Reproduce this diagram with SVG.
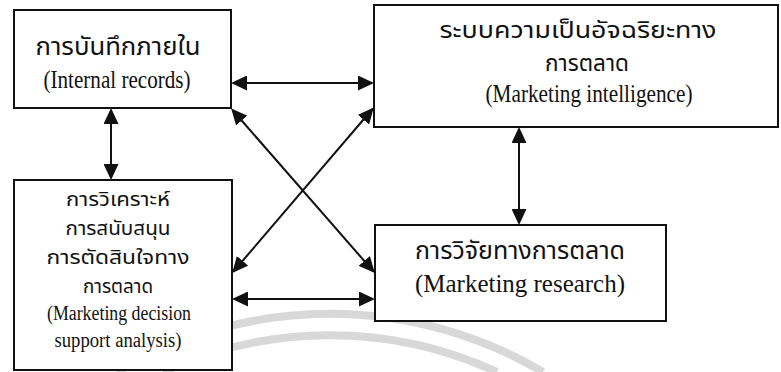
<svg xmlns="http://www.w3.org/2000/svg" width="781" height="372" viewBox="0 0 781 372">
  <style>
    .box { fill: #ffffff; stroke: #111111; stroke-width: 2; }
    .th { font-family: "Noto Sans Thai", "Noto Serif Thai", "Loma", "Garuda", "Norasi", "Tlwg Typo", "DejaVu Sans", sans-serif; fill: #111111; text-anchor: middle; }
    .en { font-family: "Liberation Serif", "Times New Roman", serif; fill: #111111; text-anchor: middle; }
    .link { fill: none; stroke: #111111; stroke-width: 2; }
    .mark { fill: none; stroke: #d8d8d8; stroke-width: 8; }
  </style>
  <defs>
    <marker id="tip" viewBox="0 0 16 15" refX="14" refY="7.5" markerWidth="16" markerHeight="15" markerUnits="userSpaceOnUse" orient="auto-start-reverse">
      <path d="M0,0 L16,7.5 L0,15 z" fill="#111111"/>
    </marker>
  </defs>

  <!-- faint background arcs -->
  <g id="backdrop">
    <path class="mark" d="M117,372 A418.6,418.6 0 0 1 543,372"/>
    <path class="mark" d="M163,372 A397,397 0 0 1 497,372"/>
  </g>

  <g id="internal-records">
    <rect class="box" x="14" y="10" width="217" height="98"/>
    <text class="th" x="118" y="55" font-size="24" textLength="165" lengthAdjust="spacingAndGlyphs">การบันทึกภายใน</text>
    <text class="en" x="117" y="88" font-size="25" textLength="147" lengthAdjust="spacingAndGlyphs">(Internal records)</text>
  </g>

  <g id="marketing-intelligence">
    <rect class="box" x="374" y="5" width="404" height="122"/>
    <text class="th" x="578" y="38" font-size="23" textLength="277" lengthAdjust="spacingAndGlyphs">ระบบความเป็นอัจฉริยะทาง</text>
    <text class="th" x="587" y="71" font-size="23" textLength="84" lengthAdjust="spacingAndGlyphs">การตลาด</text>
    <text class="en" x="589" y="102" font-size="25" textLength="207" lengthAdjust="spacingAndGlyphs">(Marketing intelligence)</text>
  </g>

  <g id="decision-support">
    <rect class="box" x="14" y="180" width="218" height="190"/>
    <text class="th" x="118" y="206" font-size="20" textLength="104" lengthAdjust="spacingAndGlyphs">การวิเคราะห์</text>
    <text class="th" x="118" y="235" font-size="20" textLength="105" lengthAdjust="spacingAndGlyphs">การสนับสนุน</text>
    <text class="th" x="118" y="264" font-size="20" textLength="143" lengthAdjust="spacingAndGlyphs">การตัดสินใจทาง</text>
    <text class="th" x="118" y="293" font-size="20" textLength="70" lengthAdjust="spacingAndGlyphs">การตลาด</text>
    <text class="en" x="119" y="320" font-size="20" textLength="144" lengthAdjust="spacingAndGlyphs">(Marketing decision</text>
    <text class="en" x="118" y="347" font-size="20" textLength="127" lengthAdjust="spacingAndGlyphs">support analysis)</text>
  </g>

  <g id="marketing-research">
    <rect class="box" x="375" y="225" width="291" height="96"/>
    <text class="th" x="520" y="259" font-size="24" textLength="210" lengthAdjust="spacingAndGlyphs">การวิจัยทางการตลาด</text>
    <text class="en" x="520" y="292" font-size="25" textLength="210" lengthAdjust="spacingAndGlyphs">(Marketing research)</text>
  </g>

  <g id="connectors">
    <line class="link" x1="233" y1="83" x2="372" y2="83" marker-start="url(#tip)" marker-end="url(#tip)"/>
    <line class="link" x1="111" y1="110" x2="111" y2="178" marker-start="url(#tip)" marker-end="url(#tip)"/>
    <line class="link" x1="519" y1="129" x2="519" y2="223" marker-start="url(#tip)" marker-end="url(#tip)"/>
    <line class="link" x1="234" y1="299" x2="373" y2="299" marker-start="url(#tip)" marker-end="url(#tip)"/>
    <line class="link" x1="232.5" y1="110" x2="373.5" y2="271.5" marker-start="url(#tip)" marker-end="url(#tip)"/>
    <line class="link" x1="372.5" y1="109" x2="233.5" y2="271.5" marker-start="url(#tip)" marker-end="url(#tip)"/>
  </g>
</svg>
